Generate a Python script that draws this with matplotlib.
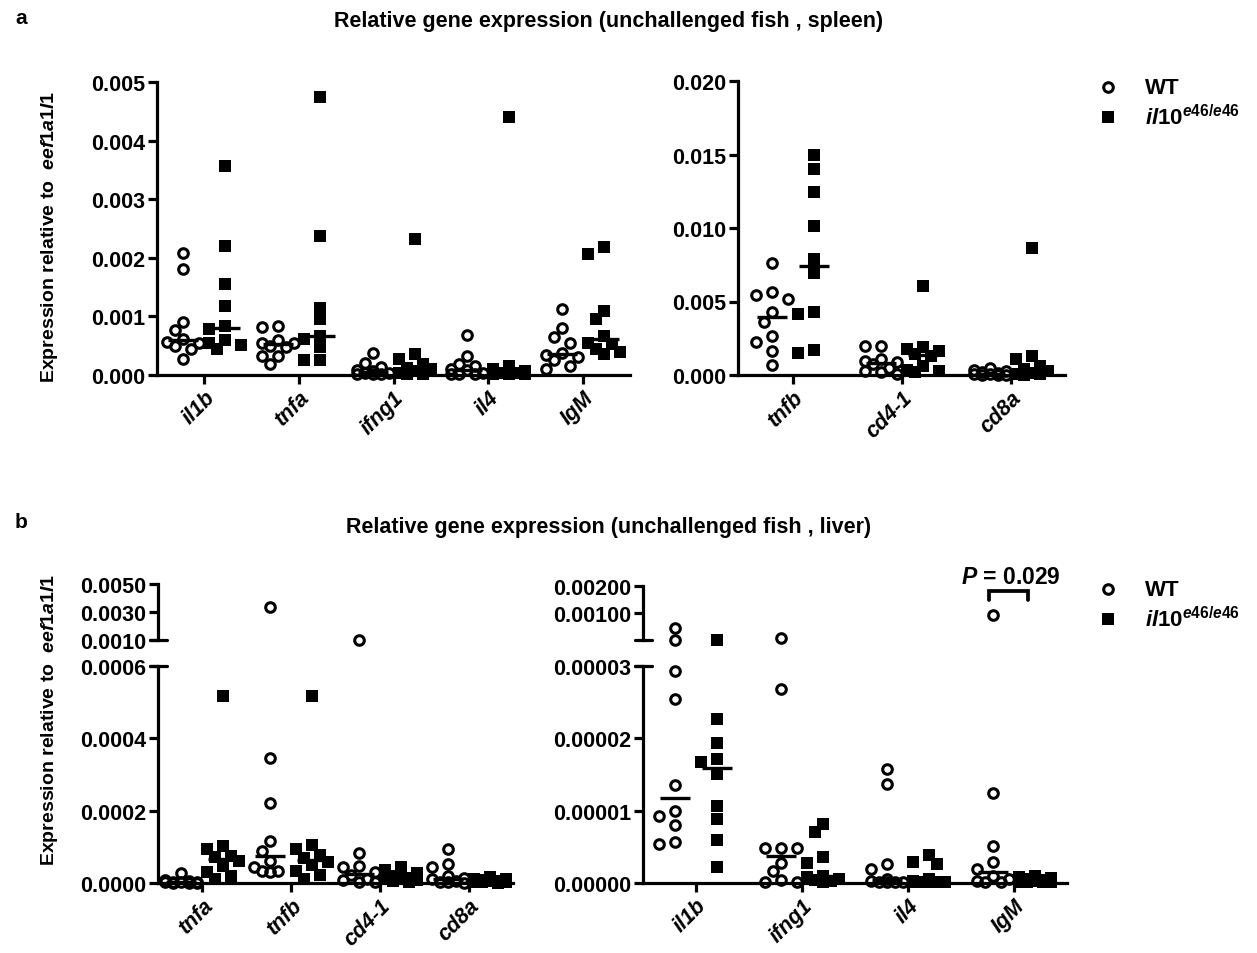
import numpy as np
import matplotlib
matplotlib.use('Agg')
import matplotlib.pyplot as plt
from matplotlib.lines import Line2D

plt.rcParams['font.family'] = ['Liberation Sans', 'DejaVu Sans']
plt.rcParams['font.weight'] = 'bold'
plt.rcParams['mathtext.fontset'] = 'custom'
plt.rcParams['mathtext.it'] = 'Liberation Sans:italic:bold'
plt.rcParams['mathtext.rm'] = 'Liberation Sans:bold'
plt.rcParams['mathtext.bf'] = 'Liberation Sans:bold'

# ---- data ----
spleen_genes_1 = ['il1b', 'tnfa', 'ifng1', 'il4', 'IgM']
spleen_wt_1 = [
    [0.00209, 0.00181, 0.00090, 0.00076, 0.00061, 0.00057, 0.00055, 0.00049, 0.00045, 0.00027],
    [0.00083, 0.00082, 0.00059, 0.00055, 0.00055, 0.00050, 0.00047, 0.00033, 0.00033, 0.00019],
    [0.00038, 0.00020, 0.00013, 0.00008, 0.00006, 0.00004, 0.00003, 0.00002, 0.00001, 0.00001],
    [0.00069, 0.00032, 0.00019, 0.00015, 0.00010, 0.00008, 0.00004, 0.00002, 0.00001, 0.00001],
    [0.00112, 0.00080, 0.00064, 0.00055, 0.00037, 0.00034, 0.00030, 0.00025, 0.00016, 0.00011],
]
spleen_ko_1 = [
    [0.00357, 0.00220, 0.00155, 0.00117, 0.00083, 0.00078, 0.00060, 0.00055, 0.00052, 0.00045],
    [0.00475, 0.00238, 0.00115, 0.00095, 0.00066, 0.00061, 0.00047, 0.00025, 0.00025],
    [0.00232, 0.00035, 0.00027, 0.00018, 0.00012, 0.00010, 0.00006, 0.00004, 0.00002, 0.00001],
    [0.00440, 0.00015, 0.00010, 0.00006, 0.00004, 0.00003, 0.00002, 0.00001, 0.00001],
    [0.00218, 0.00206, 0.00110, 0.00096, 0.00067, 0.00055, 0.00053, 0.00044, 0.00040, 0.00036],
]

spleen_genes_2 = ['tnfb', 'cd4-1', 'cd8a']
spleen_wt_2 = [
    [0.00761, 0.00562, 0.00544, 0.00516, 0.00426, 0.00358, 0.00267, 0.00222, 0.00165, 0.00068],
    [0.00195, 0.00195, 0.00109, 0.00097, 0.00088, 0.00076, 0.00045, 0.00029, 0.00018, 0.00007],
    [0.00045, 0.00035, 0.00025, 0.00018, 0.00012, 0.00008, 0.00005, 0.00003, 0.00002, 0.00001],
]
spleen_ko_2 = [
    [0.01495, 0.01400, 0.01246, 0.01015, 0.00788, 0.00693, 0.00426, 0.00414, 0.00170, 0.00149],
    [0.00607, 0.00190, 0.00177, 0.00165, 0.00143, 0.00130, 0.00063, 0.00035, 0.00029, 0.00020],
    [0.00861, 0.00131, 0.00109, 0.00060, 0.00040, 0.00030, 0.00015, 0.00008, 0.00004, 0.00002],
]

liver_genes_1 = ['tnfa', 'tnfb', 'cd4-1', 'cd8a']
liver_wt_1 = [
    [0.000028, 0.000008, 0.000005, 0.000004, 0.000003, 0.000002, 0.000002, 0.000001, 0.000001, 0.000001],
    [0.00334, 0.000347, 0.000220, 0.000117, 0.000089, 0.000061, 0.000043, 0.000034, 0.000034, 0.000030],
    [0.00101, 0.000083, 0.000048, 0.000043, 0.000030, 0.000022, 0.000012, 0.000008, 0.000004, 0.000002],
    [0.000094, 0.000052, 0.000043, 0.000020, 0.000014, 0.000010, 0.000006, 0.000004, 0.000002, 0.000001],
]
liver_ko_1 = [
    [0.000518, 0.000103, 0.000094, 0.000075, 0.000071, 0.000060, 0.000048, 0.000030, 0.000020, 0.000012],
    [0.000518, 0.000105, 0.000095, 0.000078, 0.000070, 0.000058, 0.000050, 0.000032, 0.000022, 0.000012],
    [0.000045, 0.000035, 0.000028, 0.000020, 0.000015, 0.000012, 0.000010, 0.000008, 0.000005, 0.000003],
    [0.000016, 0.000012, 0.000010, 0.000008, 0.000006, 0.000005, 0.000004, 0.000003, 0.000002, 0.000001],
]

liver_genes_2 = ['il1b', 'ifng1', 'il4', 'IgM']
liver_wt_2 = [
    [0.000457, 0.000035, 0.0000293, 0.0000254, 0.0000135, 0.0000100, 0.0000092, 0.0000080, 0.0000057, 0.0000054],
    [0.000103, 0.0000268, 0.0000049, 0.0000049, 0.0000048, 0.0000028, 0.0000017, 0.0000004, 0.0000002, 0.0000001],
    [0.0000158, 0.0000137, 0.0000026, 0.0000020, 0.0000005, 0.0000003, 0.0000002, 0.0000002, 0.0000001, 0.0000001],
    [0.00094, 0.0000124, 0.0000051, 0.0000029, 0.0000020, 0.0000010, 0.0000005, 0.0000003, 0.0000002, 0.0000001],
]
liver_ko_2 = [
    [0.000035, 0.0000227, 0.0000194, 0.0000171, 0.0000167, 0.0000151, 0.0000106, 0.0000089, 0.0000060, 0.0000022],
    [0.0000082, 0.0000070, 0.0000036, 0.0000028, 0.0000010, 0.0000008, 0.0000006, 0.0000004, 0.0000003, 0.0000002],
    [0.0000039, 0.0000029, 0.0000026, 0.0000006, 0.0000003, 0.0000002, 0.0000002, 0.0000001, 0.0000001, 0.0000001],
    [0.0000010, 0.0000008, 0.0000007, 0.0000005, 0.0000004, 0.0000003, 0.0000002, 0.0000002, 0.0000001, 0.0000001],
]

W, H = 1257, 954
LW = 2.3
TICK_FS = 15.5
CIRC = dict(marker='o', ms=6.9, mew=2.2, mfc='none', mec='k', ls='none')
SQR = dict(marker='s', ms=8.2, mew=0, mfc='k', ls='none')

fig = plt.figure(figsize=(W / 100, H / 100), dpi=100)


def box(x0, y0, x1, y1):
    # pixel box (top-left origin) -> figure fraction rect
    return [x0 / W, 1 - y1 / H, (x1 - x0) / W, (y1 - y0) / H]


def fx(x):
    return x / W


def fy(y):
    return 1 - y / H


def style_axis(ax, ylim, yticks, ylabels, ncat, xaxis=True):
    ax.set_xlim(-0.5, ncat - 0.5)
    ax.set_ylim(*ylim)
    ax.spines['top'].set_visible(False)
    ax.spines['right'].set_visible(False)
    ax.spines['left'].set_linewidth(LW)
    ax.spines['bottom'].set_linewidth(LW)
    ax.set_yticks(yticks)
    ax.set_yticklabels(ylabels, fontsize=TICK_FS, fontweight='bold')
    ax.tick_params(axis='both', direction='out', length=6.5, width=LW, pad=2)
    if not xaxis:
        ax.spines['bottom'].set_visible(False)
        ax.set_xticks([])


def swarm(ypix, step=8.0, dmin=11.0):
    cands = [0, -step, step, -2 * step, 2 * step]
    placed = []
    out = []
    for y in ypix:
        best, best_d = 0, -1
        for c in cands:
            d = min([np.hypot(c - px, y - py) for px, py in placed], default=1e9)
            if d >= dmin:
                best = c
                break
            if d > best_d:
                best, best_d = c, d
        placed.append((best, y))
        out.append(best)
    return out


def draw_groups(ax_low, ax_high, genes, wt, ko):
    ppu = ax_low.transData.transform((1, 0))[0] - ax_low.transData.transform((0, 0))[0]
    split = ax_high.get_ylim()[0] if ax_high is not None else None
    for i in range(len(genes)):
        for vals, kind, off in [(wt[i], 'wt', -21), (ko[i], 'ko', 21)]:
            vals = sorted(vals, reverse=True)
            axes_for = []
            ypix = []
            for v in vals:
                a = ax_high if (split is not None and v >= split) else ax_low
                axes_for.append(a)
                ypix.append(a.transData.transform((0, v))[1])
            dxs = swarm(ypix)
            for v, a, dx in zip(vals, axes_for, dxs):
                x = i + (off + dx) / ppu
                a.plot(x, v, clip_on=False, zorder=3, **(CIRC if kind == 'wt' else SQR))
            med = np.median(vals)
            ax_low.plot([i + (off - 15) / ppu, i + (off + 15) / ppu], [med, med], '-',
                        color='k', lw=2.4, solid_capstyle='butt', clip_on=False, zorder=4)
    ax_low.set_xticks(range(len(genes)))
    ax_low.set_xticklabels(genes, rotation=45, ha='right', va='top', rotation_mode='anchor',
                           fontsize=TICK_FS, fontweight='bold', fontstyle='italic')


def break_marks(x_spine, ys):
    for y in ys:
        fig.add_artist(Line2D([fx(x_spine - 8), fx(x_spine + 9)], [fy(y), fy(y)],
                              transform=fig.transFigure, color='k', lw=LW, solid_capstyle='round'))


# ---- panel a: spleen ----
ax_a1 = fig.add_axes(box(157, 83, 630, 376))
style_axis(ax_a1, (0, 0.005), np.arange(0, 0.0051, 0.001),
           ['0.000', '0.001', '0.002', '0.003', '0.004', '0.005'], len(spleen_genes_1))
draw_groups(ax_a1, None, spleen_genes_1, spleen_wt_1, spleen_ko_1)

ax_a2 = fig.add_axes(box(738, 82, 1065, 376))
style_axis(ax_a2, (0, 0.020), np.arange(0, 0.0201, 0.005),
           ['0.000', '0.005', '0.010', '0.015', '0.020'], len(spleen_genes_2))
draw_groups(ax_a2, None, spleen_genes_2, spleen_wt_2, spleen_ko_2)

# ---- panel b: liver (broken y axes) ----
ax_b1 = fig.add_axes(box(158, 667, 513, 884))
style_axis(ax_b1, (0, 0.0006), [0, 0.0002, 0.0004, 0.0006],
           ['0.0000', '0.0002', '0.0004', '0.0006'], len(liver_genes_1))
ax_b1h = fig.add_axes(box(158, 585, 513, 641))
style_axis(ax_b1h, (0.001, 0.005), [0.001, 0.003, 0.005],
           ['0.0010', '0.0030', '0.0050'], len(liver_genes_1), xaxis=False)
ax_b1h.patch.set_visible(False)
draw_groups(ax_b1, ax_b1h, liver_genes_1, liver_wt_1, liver_ko_1)
break_marks(158, [641, 667])

ax_b2 = fig.add_axes(box(643, 667, 1067, 884))
style_axis(ax_b2, (0, 0.00003), [0, 0.00001, 0.00002, 0.00003],
           ['0.00000', '0.00001', '0.00002', '0.00003'], len(liver_genes_2))
ax_b2h = fig.add_axes(box(643, 587, 1067, 641))
style_axis(ax_b2h, (0.00003, 0.002), [0.001, 0.002],
           ['0.00100', '0.00200'], len(liver_genes_2), xaxis=False)
ax_b2h.patch.set_visible(False)
draw_groups(ax_b2, ax_b2h, liver_genes_2, liver_wt_2, liver_ko_2)
break_marks(643, [641, 667])

# significance bracket for IgM
bx0, bx1 = 3 - 0.24, 3 + 0.13
ax_b2h.plot([bx0, bx0, bx1, bx1], [0.00150, 0.00182, 0.00182, 0.00150], color='k',
            lw=LW + 0.4, clip_on=False, solid_capstyle='round', solid_joinstyle='miter')
fig.text(fx(1011), fy(577), r'$\mathit{P}$ = 0.029', ha='center', va='center', fontsize=16.5)

# ---- titles, letters, labels ----
fig.text(fx(15), fy(18), 'a', fontsize=15, ha='left', va='center')
fig.text(fx(15), fy(522), 'b', fontsize=15, ha='left', va='center')
fig.text(fx(609), fy(22), 'Relative gene expression (unchallenged fish , spleen)',
         fontsize=15.5, ha='center', va='center')
fig.text(fx(609), fy(528), 'Relative gene expression (unchallenged fish , liver)',
         fontsize=15.5, ha='center', va='center')

ylab = r'Expression relative to  $\mathit{eef1a1l1}$'
fig.text(fx(50), fy(237), ylab, rotation=90, fontsize=14, ha='center', va='center')
fig.text(fx(50), fy(720), ylab, rotation=90, fontsize=14, ha='center', va='center')

# ---- legends ----
for ly in (88, 590):
    fig.add_artist(Line2D([fx(1108)], [fy(ly)], transform=fig.transFigure, **CIRC))
    fig.add_artist(Line2D([fx(1108)], [fy(ly + 30)], transform=fig.transFigure, **SQR))
    fig.text(fx(1145), fy(ly), 'WT', fontsize=16, ha='left', va='center')
    fig.text(fx(1145), fy(ly + 30), r'$\mathit{il10}^{\mathit{e46/e46}}$', fontsize=16,
             ha='left', va='center')

fig.savefig('out.png', dpi=100)
